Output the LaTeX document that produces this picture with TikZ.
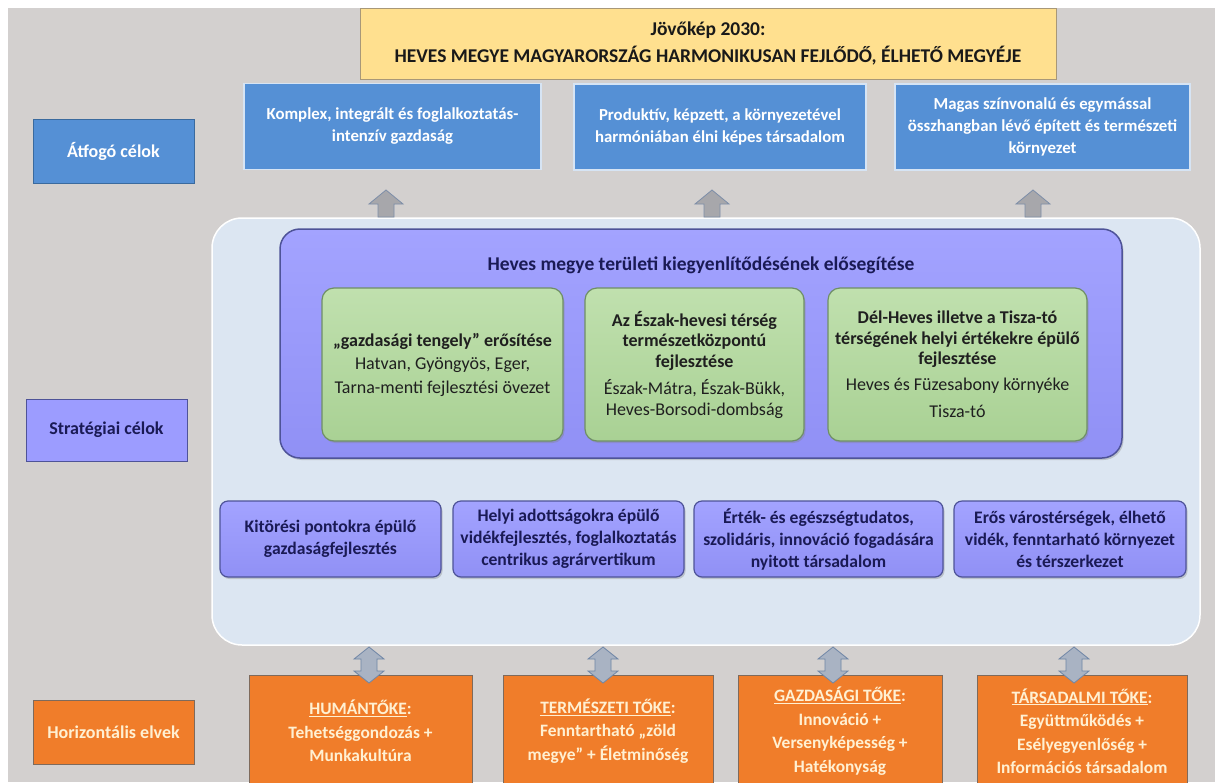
\documentclass[tikz,border=0pt]{standalone}
\usepackage{fontspec}
\setmainfont{Carlito}
\usetikzlibrary{shadows}
\definecolor{bggray}{HTML}{D3D0CF}
\definecolor{visionyellow}{HTML}{FFE08F}
\definecolor{visionborder}{HTML}{A89878}
\definecolor{goalblue}{HTML}{5590D5}
\definecolor{goalborder}{HTML}{D6E4F4}
\definecolor{goaldark}{HTML}{3A6A9E}
\definecolor{lightblue}{HTML}{DCE6F2}
\definecolor{purpletop}{HTML}{A3A3FF}
\definecolor{purplebot}{HTML}{9090F5}
\definecolor{purpleborder}{HTML}{4E5398}
\definecolor{stratpurple}{HTML}{9C9CFF}
\definecolor{navytext}{HTML}{1A1A55}
\definecolor{greentop}{HTML}{C0E0AE}
\definecolor{greenbot}{HTML}{A9D194}
\definecolor{greenborder}{HTML}{6F8F65}
\definecolor{orangefill}{HTML}{F07D2A}
\definecolor{orangeborder}{HTML}{7E6A5C}
\definecolor{creamtext}{HTML}{FFF0D2}
\definecolor{arrowgray}{HTML}{A7A7AB}
\definecolor{arrowedge}{HTML}{7D8EA8}
\definecolor{dblgray}{HTML}{A9B3C3}
\definecolor{dbledge}{HTML}{6F86A6}
\tikzset{
  box/.style={draw, rectangle, align=center, inner sep=2pt, line width=1pt},
  vision/.style={box, fill=visionyellow, draw=visionborder, text=black!90,
    font=\fontsize{19.5}{27}\selectfont\bfseries},
  topgoal/.style={box, fill=goalblue, draw=goalborder, line width=1.5pt, text=white,
    font=\fontsize{16.8}{22}\selectfont\bfseries},
  lblA/.style={box, fill=goalblue, draw=goaldark, text=white,
    font=\fontsize{18}{20}\selectfont\bfseries},
  lblS/.style={box, fill=stratpurple, draw=purpleborder, text=navytext,
    font=\fontsize{18}{20}\selectfont\bfseries},
  lblH/.style={box, fill=orangefill, draw=orangeborder, text=creamtext,
    font=\fontsize{18}{20}\selectfont\bfseries},
  outerbox/.style={draw=white, line width=1.5pt, fill=lightblue, rounded corners=30pt},
  purplebig/.style={draw=purpleborder, line width=1.5pt, top color=purpletop,
    bottom color=purplebot, rounded corners=20pt,
    drop shadow={shadow xshift=1.5pt, shadow yshift=-2pt, opacity=.35}},
  ptitle/.style={text=navytext, font=\fontsize{19.5}{22}\selectfont\bfseries},
  greenbox/.style={rectangle, align=center, draw=greenborder, line width=1.2pt,
    top color=greentop, bottom color=greenbot, rounded corners=12pt,
    text=black!88, font=\fontsize{18}{20.5}\selectfont,
    drop shadow={shadow xshift=1.5pt, shadow yshift=-2pt, opacity=.35}},
  stratbox/.style={rectangle, align=center, draw=purpleborder, line width=1.2pt,
    top color=purpletop, bottom color=purplebot, rounded corners=8pt,
    text=navytext, font=\fontsize{17.6}{22}\selectfont\bfseries,
    drop shadow={shadow xshift=1.5pt, shadow yshift=-2pt, opacity=.35}},
  capbox/.style={box, fill=orangefill, draw=orangeborder, text=creamtext,
    font=\fontsize{17.4}{23.5}\selectfont\bfseries},
  arrowfill/.style={fill=arrowgray, draw=arrowedge, line width=0.8pt, line join=miter},
  dblfill/.style={fill=dblgray, draw=dbledge, line width=0.8pt, line join=miter},
  uparr/.pic={\draw[arrowfill] (-8,0) -- (-8,-13) -- (-17,-13) -- (0,-27)
    -- (17,-13) -- (8,-13) -- (8,0) -- cycle;},
  dblarr/.pic={\draw[dblfill] (0,-18) -- (15,-6) -- (8,-6) -- (8,6) -- (15,6)
    -- (0,18) -- (-15,6) -- (-8,6) -- (-8,-6) -- (-15,-6) -- cycle;}
}
\begin{document}
\begin{tikzpicture}[x=1pt,y=-1pt]
\useasboundingbox (0,0) rectangle (1215,782);
\fill[white] (0,0) rectangle (1215,782);
\fill[bggray] (8,8) rectangle (1215,782);

% large light-blue panel and purple group
\node[outerbox, minimum width=988pt, minimum height=427pt] (lb) at (706,431.5) {};
\node[purplebig, minimum width=842pt, minimum height=229pt] (pg) at (701,343.5) {};
\node[ptitle] (pt) at (701,265) {Heves megye területi kiegyenlítődésének elősegítése};

% green sub-boxes
\node[greenbox, minimum width=241pt, minimum height=153pt] (g1) at (442.5,364.5)
  {\textbf{„gazdasági tengely” erősítése}\\[3pt] Hatvan, Gyöngyös, Eger,\\[3pt] Tarna-menti fejlesztési övezet};
\node[greenbox, minimum width=219pt, minimum height=153pt] (g2) at (694.5,364.5)
  {\textbf{Az Észak-hevesi térség}\\ \textbf{természetközpontú}\\ \textbf{fejlesztése}\\[7pt] Észak-Mátra, Észak-Bükk,\\ Heves-Borsodi-dombság};
\node[greenbox, minimum width=259pt, minimum height=153pt] (g3) at (957.5,364.5)
  {\textbf{Dél-Heves illetve a Tisza-tó}\\ \textbf{térségének helyi értékekre épülő}\\ \textbf{fejlesztése}\\[5pt] Heves és Füzesabony környéke\\[7pt] Tisza-tó};

% strategic boxes
\node[stratbox, minimum width=221pt, minimum height=76pt] (s1) at (330.5,539)
  {Kitörési pontokra épülő\\ gazdaságfejlesztés};
\node[stratbox, minimum width=231pt, minimum height=76pt] (s2) at (568.5,539)
  {Helyi adottságokra épülő\\ vidékfejlesztés, foglalkoztatás\\ centrikus agrárvertikum};
\node[stratbox, minimum width=249pt, minimum height=76pt] (s3) at (818.5,539)
  {Érték- és egészségtudatos,\\ szolidáris, innováció fogadására\\ nyitott társadalom};
\node[stratbox, minimum width=232pt, minimum height=76pt] (s4) at (1070,539)
  {Erős várostérségek, élhető\\ vidék, fenntarható környezet\\ és térszerkezet};

% vision
\node[vision, minimum width=696pt, minimum height=71pt] (vis) at (708,43.5)
  {Jövőkép 2030:\\ HEVES MEGYE MAGYARORSZÁG HARMONIKUSAN FEJLŐDŐ, ÉLHETŐ MEGYÉJE};

% overarching goals
\node[topgoal, minimum width=297pt, minimum height=86pt] (t1) at (392.5,126.5)
  {Komplex, integrált és foglalkoztatás-\\ intenzív gazdaság};
\node[topgoal, minimum width=292pt, minimum height=86pt] (t2) at (720,127)
  {Produktív, képzett, a környezetével\\ harmóniában élni képes társadalom};
\node[topgoal, minimum width=295pt, minimum height=86pt] (t3) at (1042.5,127)
  {Magas színvonalú és egymással\\ összhangban lévő épített és természeti\\ környezet};

% row labels
\node[lblA, minimum width=161pt, minimum height=64pt] (la) at (113.5,151) {Átfogó célok};
\node[lblS, minimum width=161pt, minimum height=62pt] (ls) at (106.5,430) {Stratégiai célok};
\node[lblH, minimum width=161pt, minimum height=64pt] (lh) at (113.5,732) {Horizontális elvek};

% horizontal principles
\node[capbox, minimum width=223pt, minimum height=112pt] (o1) at (360.5,731)
  {\underline{HUMÁNTŐKE}:\\ Tehetséggondozás +\\ Munkakultúra};
\node[capbox, minimum width=210pt, minimum height=112pt] (o2) at (608,731)
  {\underline{TERMÉSZETI TŐKE}:\\ Fenntartható „zöld\\ megye” + Életminőség};
\node[capbox, minimum width=204pt, minimum height=112pt] (o3) at (840,731)
  {\underline{GAZDASÁGI TŐKE}:\\ Innováció +\\ Versenyképesség +\\ Hatékonyság};
\node[capbox, minimum width=210pt, minimum height=112pt] (o4) at (1082,731)
  {\underline{TÁRSADALMI TŐKE}:\\ Együttműködés +\\ Esélyegyenlőség +\\ Információs társadalom};

% connectors: block arrows
\coordinate (u1) at (386,217);
\coordinate (u2) at (712,217);
\coordinate (u3) at (1033,217);
\pic at (u1) {uparr};
\pic at (u2) {uparr};
\pic at (u3) {uparr};
\coordinate (d1) at (369,665);
\coordinate (d2) at (603,665);
\coordinate (d3) at (833,665);
\coordinate (d4) at (1074,665);
\pic at (d1) {dblarr};
\pic at (d2) {dblarr};
\pic at (d3) {dblarr};
\pic at (d4) {dblarr};
\end{tikzpicture}
\end{document}
